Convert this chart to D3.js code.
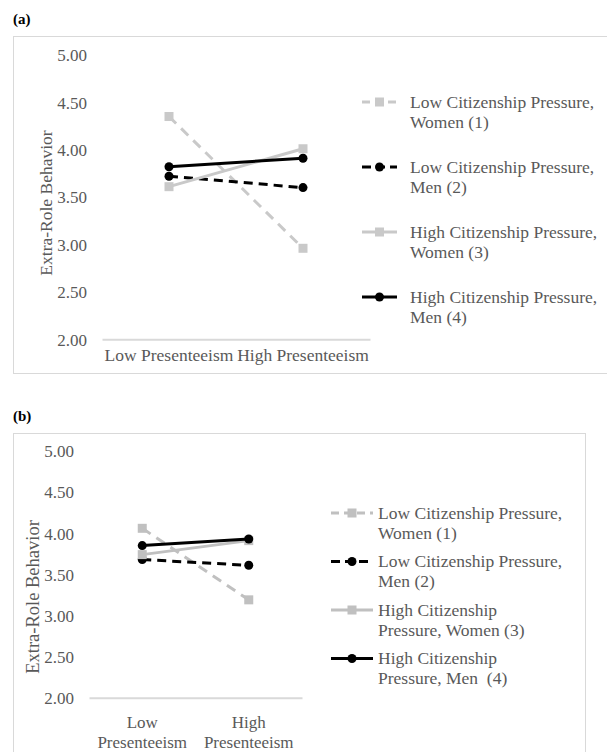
<!DOCTYPE html>
<html lang="en">
<head>
<meta charset="utf-8">
<title>Extra-Role Behavior</title>
<script src="https://d3js.org/d3.v7.min.js"></script>
<style>
  body { margin: 0; background: #fff; font-family: "Liberation Serif", "Times New Roman", serif; }
</style>
</head>
<body>
<div id="chart"></div>
<script>
// ---- data ----
var categories = ["Low Presenteeism", "High Presenteeism"];
var seriesNamesA = ["Low Citizenship Pressure, Women (1)", "Low Citizenship Pressure, Men (2)",
                    "High Citizenship Pressure, Women (3)", "High Citizenship Pressure, Men (4)"];
var seriesNamesB = seriesNamesA;
var yTicks = [2.00, 2.50, 3.00, 3.50, 4.00, 4.50, 5.00];

// panel (a)
var lowWomenA  = [4.35, 2.96];
var lowMenA    = [3.72, 3.60];
var highWomenA = [3.61, 4.01];
var highMenA   = [3.82, 3.91];

// panel (b)
var lowWomenB  = [4.06, 3.19];
var lowMenB    = [3.68, 3.61];
var highWomenB = [3.74, 3.91];
var highMenB   = [3.85, 3.93];

// legend lines as shown in each panel
var legendA = [["Low Citizenship Pressure,", "Women (1)"], ["Low Citizenship Pressure,", "Men (2)"],
               ["High Citizenship Pressure,", "Women (3)"], ["High Citizenship Pressure,", "Men (4)"]];
var legendB = [["Low Citizenship Pressure,", "Women (1)"], ["Low Citizenship Pressure,", "Men (2)"],
               ["High Citizenship", "Pressure, Women (3)"], ["High Citizenship", "Pressure, Men  (4)"]];

var textCol = "#595959";
var gridCol = "#d9d9d9";

var svg = d3.select("#chart").append("svg")
    .attr("width", 607).attr("height", 752);

function styles(grayCol) {
  return [
    {color: grayCol, dash: "10,7", marker: "square", legendDash: "8,5"},
    {color: "#000", dash: "9,6", marker: "circle", legendDash: "9,5"},
    {color: grayCol, dash: null, marker: "square"},
    {color: "#000", dash: null, marker: "circle"}
  ];
}

function drawPanel(p) {
  var g = svg.append("g");

  g.append("text").attr("x", 13).attr("y", p.labelY)
    .attr("font-weight", "bold").attr("font-size", "15px").attr("fill", "#000")
    .text(p.label);

  g.append("rect")
    .attr("x", p.frame[0] + 0.5).attr("y", p.frame[1] + 0.5)
    .attr("width", p.frame[2]).attr("height", p.frame[3])
    .attr("fill", "none").attr("stroke", gridCol).attr("stroke-width", 1);

  var x = d3.scaleBand().domain(categories).range([p.left, p.right]);
  var y = d3.scaleLinear().domain([2, 5]).range([p.bottom, p.top]);

  // y tick labels
  var yAxis = g.append("g")
    .attr("transform", "translate(" + p.left + ",0)")
    .call(d3.axisLeft(y).tickValues(yTicks).tickFormat(d3.format(".2f")).tickSize(0).tickPadding(p.left - p.tickEnd));
  yAxis.select(".domain").remove();
  yAxis.selectAll("text").attr("font-family", "Liberation Serif, serif")
    .attr("font-size", p.tickSize).attr("fill", textCol).attr("dy", "0.34em");

  // bottom axis
  var xAxis = g.append("g")
    .attr("transform", "translate(0," + p.bottom + ")")
    .call(d3.axisBottom(x).tickSize(0).tickSizeOuter(0).tickFormat(""));
  xAxis.select(".domain").attr("stroke", gridCol).attr("stroke-width", 2);

  categories.forEach(function(c) {
    var t = g.append("text").attr("text-anchor", "middle")
      .attr("font-size", p.catSize).attr("fill", textCol);
    var lines = p.wrapCats ? c.split(" ") : [c];
    lines.forEach(function(s, i) {
      t.append("tspan").attr("x", x(c) + x.bandwidth() / 2)
        .attr("y", p.catY + i * p.catLine).text(s);
    });
  });

  // y title
  g.append("text")
    .attr("transform", "translate(" + p.titleX + "," + p.titleY + ") rotate(-90)")
    .attr("text-anchor", "middle").attr("dominant-baseline", "central")
    .attr("font-size", p.titleSize).attr("fill", textCol)
    .text("Extra-Role Behavior");

  var st = styles(p.gray);
  var line = d3.line()
    .x(function(d, i) { return x(categories[i]) + x.bandwidth() / 2; })
    .y(function(d) { return y(d); });

  p.series.forEach(function(vals, k) {
    var s = st[k];
    g.append("path").datum(vals)
      .attr("d", line).attr("fill", "none")
      .attr("stroke", s.color).attr("stroke-width", 3)
      .attr("stroke-dasharray", s.dash);
    drawMarkers(g, vals.map(function(v, i) {
      return [x(categories[i]) + x.bandwidth() / 2, y(v)];
    }), s);
  });

  // legend
  p.legend.forEach(function(lines, k) {
    var s = st[k];
    var ly = p.legendY + k * p.legendStep;
    g.append("line")
      .attr("x1", p.legendX1).attr("x2", p.legendX2)
      .attr("y1", ly).attr("y2", ly)
      .attr("stroke", s.color).attr("stroke-width", 3)
      .attr("stroke-dasharray", s.legendDash || null);
    drawMarkers(g, [[(p.legendX1 + p.legendX2) / 2, ly]], s);
    var t = g.append("text").attr("font-size", p.legendSize).attr("fill", textCol);
    lines.forEach(function(txt, i) {
      t.append("tspan").attr("x", p.legendTextX)
        .attr("y", ly + i * 20).attr("dy", "0.33em")
        .attr("xml:space", "preserve").text(txt);
    });
  });
}

function drawMarkers(g, pts, s) {
  if (s.marker === "square") {
    g.selectAll(null).data(pts).enter().append("rect")
      .attr("x", function(d) { return d[0] - 4.5; })
      .attr("y", function(d) { return d[1] - 4.5; })
      .attr("width", 9).attr("height", 9).attr("fill", s.color);
  } else {
    g.selectAll(null).data(pts).enter().append("circle")
      .attr("cx", function(d) { return d[0]; })
      .attr("cy", function(d) { return d[1]; })
      .attr("r", 4.5).attr("fill", s.color);
  }
}

drawPanel({
  label: "(a)", labelY: 24,
  frame: [13, 36, 600, 337],
  left: 102, right: 370, top: 54.9, bottom: 339.3, tickEnd: 87,
  tickSize: "17px", catSize: "17.5px", catY: 361, catLine: 0, wrapCats: false,
  titleX: 46, titleY: 203, titleSize: "17.5px",
  gray: "#c9c9c9",
  series: [lowWomenA, lowMenA, highWomenA, highMenA],
  legend: legendA, legendX1: 362, legendX2: 397, legendY: 102, legendStep: 65,
  legendTextX: 410, legendSize: "17.5px"
});

drawPanel({
  label: "(b)", labelY: 421,
  frame: [13, 433, 572, 330],
  left: 89, right: 302, top: 451, bottom: 697.7, tickEnd: 74,
  tickSize: "17px", catSize: "17px", catY: 728, catLine: 20, wrapCats: true,
  titleX: 33, titleY: 597, titleSize: "18.5px",
  gray: "#c0c0c0",
  series: [lowWomenB, lowMenB, highWomenB, highMenB],
  legend: legendB, legendX1: 331, legendX2: 373, legendY: 513, legendStep: 48.5,
  legendTextX: 378, legendSize: "17.5px"
});
</script>
</body>
</html>
